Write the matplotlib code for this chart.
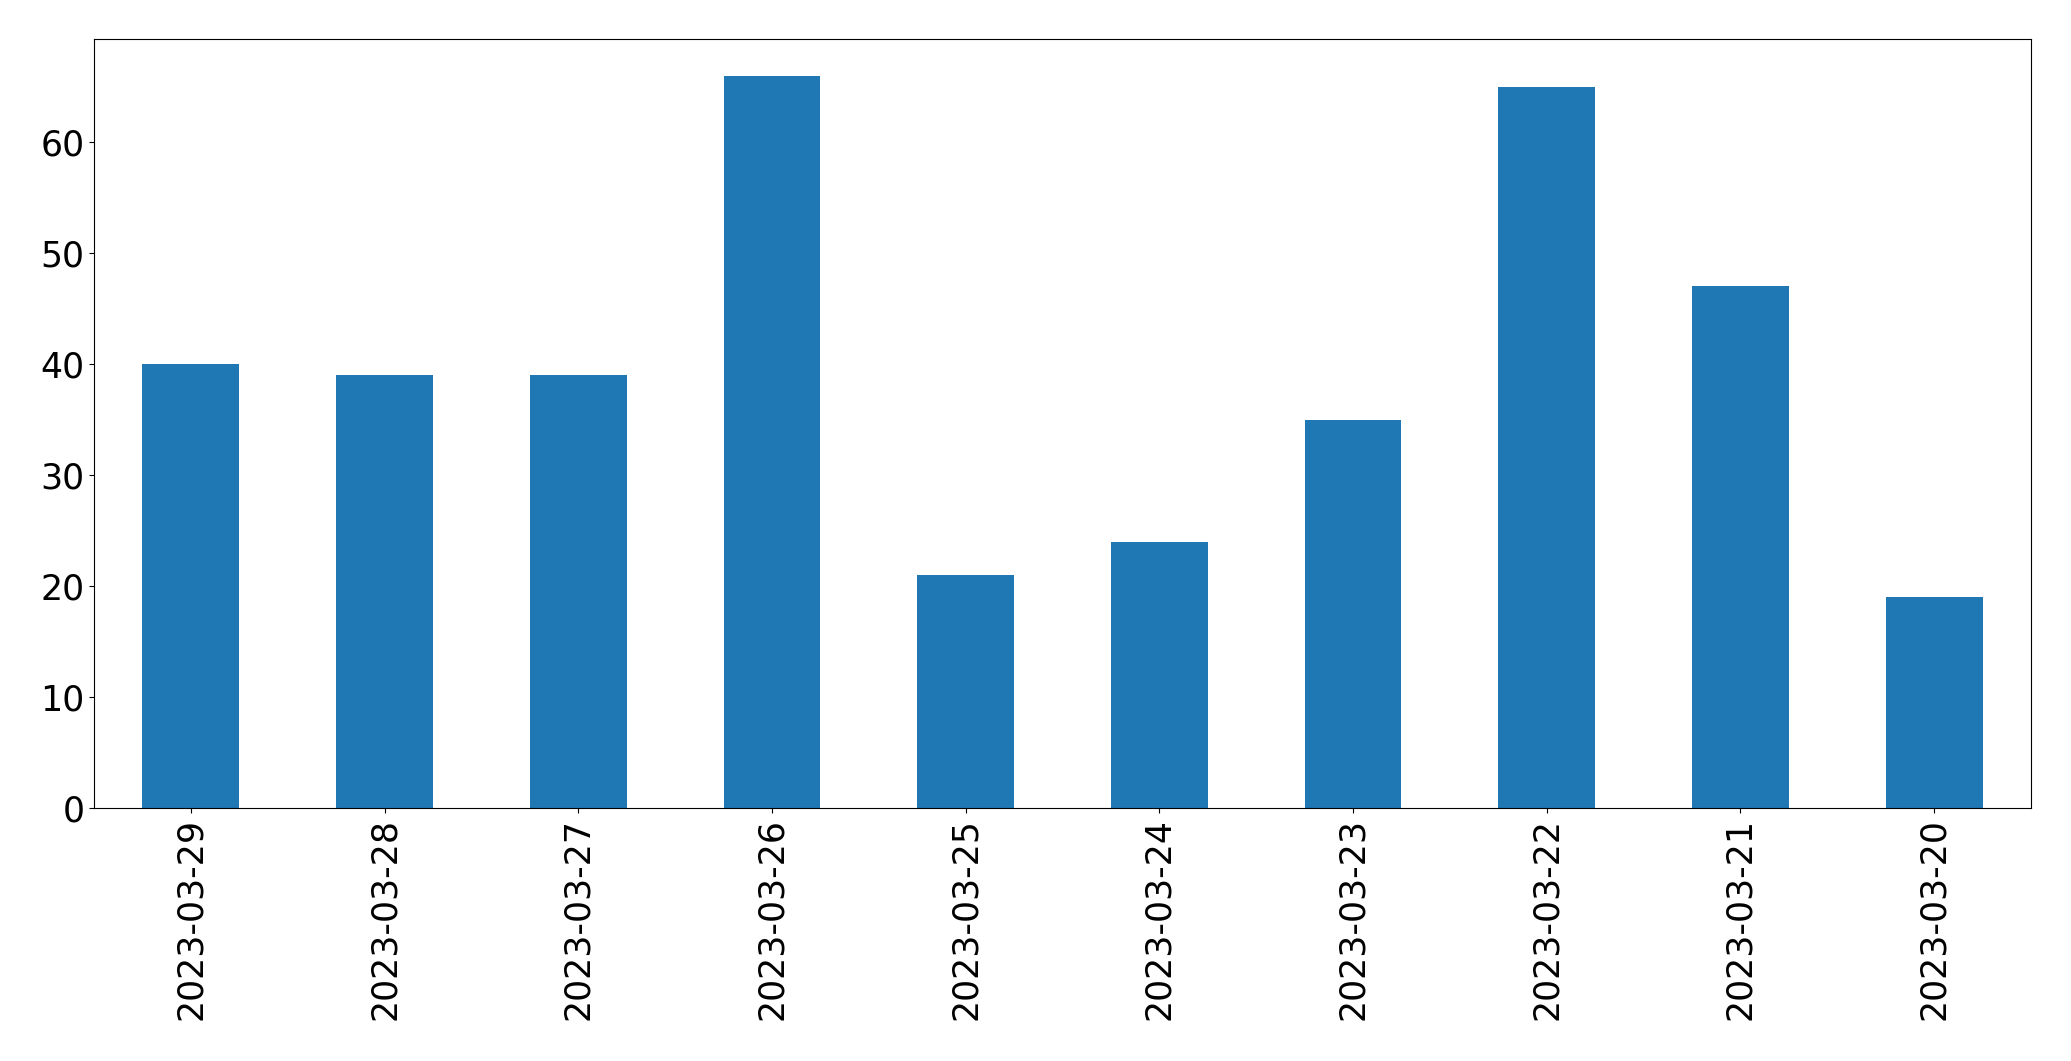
import matplotlib
matplotlib.use("Agg")
import matplotlib.pyplot as plt
import numpy as np

dates = ["2023-03-29", "2023-03-28", "2023-03-27", "2023-03-26", "2023-03-25",
         "2023-03-24", "2023-03-23", "2023-03-22", "2023-03-21", "2023-03-20"]
counts = [40, 39, 39, 66, 21, 24, 35, 65, 47, 19]

fig = plt.figure(figsize=(20.71, 10.61), dpi=100)
ax = fig.add_axes([94 / 2071, 1 - 808 / 1061, (2031 - 94) / 2071, (808 - 39) / 1061])
x = np.arange(len(dates))
ax.bar(x, counts, width=0.5, color="#1f77b4")
ax.set_xlim(-0.5, len(dates) - 0.5)
ax.set_xticks(x)
ax.set_xticklabels(dates, rotation=90)
ax.tick_params(labelsize=25)

fig.savefig("out.png", dpi=100)
